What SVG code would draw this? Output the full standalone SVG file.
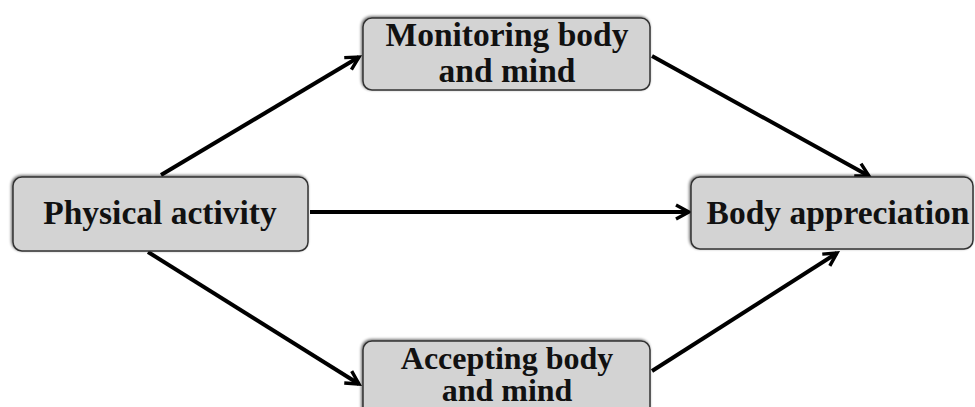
<svg xmlns="http://www.w3.org/2000/svg" width="975" height="407" viewBox="0 0 975 407">
<defs>
<marker id="ah" viewBox="0 0 18 18" refX="15" refY="9" markerWidth="18" markerHeight="18" markerUnits="userSpaceOnUse" orient="auto">
<path d="M2,2 L15,9 L2,16" fill="none" stroke="#000" stroke-width="3.4" stroke-linejoin="miter"/>
</marker>
<filter id="sh" x="-10%" y="-20%" width="120%" height="140%">
<feGaussianBlur in="SourceAlpha" stdDeviation="1.5"/>
<feOffset dx="-1" dy="-1"/>
<feComponentTransfer><feFuncA type="linear" slope="0.6"/></feComponentTransfer>
<feMerge><feMergeNode/><feMergeNode in="SourceGraphic"/></feMerge>
</filter>
</defs>
<style>
.box{fill:#d3d3d3;stroke:#333;stroke-width:1.5;filter:url(#sh)}
.t{font-family:"Liberation Serif","Times New Roman",serif;font-weight:bold;font-size:33.5px;fill:#111;text-anchor:middle}
.s{font-size:32px}
.c{fill:none;stroke:#000;stroke-width:4;marker-end:url(#ah)}
</style>
<rect width="975" height="407" fill="#fff"/>
<g id="connectors">
<line class="c" x1="161" y1="175" x2="359" y2="57"/>
<line class="c" x1="652" y1="56" x2="869" y2="176"/>
<line class="c" x1="310" y1="212" x2="689" y2="212"/>
<line class="c" x1="148" y1="252" x2="359" y2="384"/>
<line class="c" x1="652" y1="371" x2="837" y2="253"/>
</g>
<g id="physical-activity">
<rect class="box" x="13" y="177" width="295" height="74" rx="9"/>
<text class="t" x="160" y="224">Physical activity</text>
</g>
<g id="monitoring">
<rect class="box" x="363" y="18" width="287" height="72" rx="9"/>
<text class="t" x="507" y="46">Monitoring body</text>
<text class="t" x="507" y="82">and mind</text>
</g>
<g id="body-appreciation">
<rect class="box" x="691" y="177" width="282" height="72" rx="9"/>
<text class="t" x="838" y="224">Body appreciation</text>
</g>
<g id="accepting">
<rect class="box" x="363" y="341" width="287" height="80" rx="9"/>
<text class="t s" x="507" y="369">Accepting body</text>
<text class="t s" x="507" y="401">and mind</text>
</g>
</svg>
